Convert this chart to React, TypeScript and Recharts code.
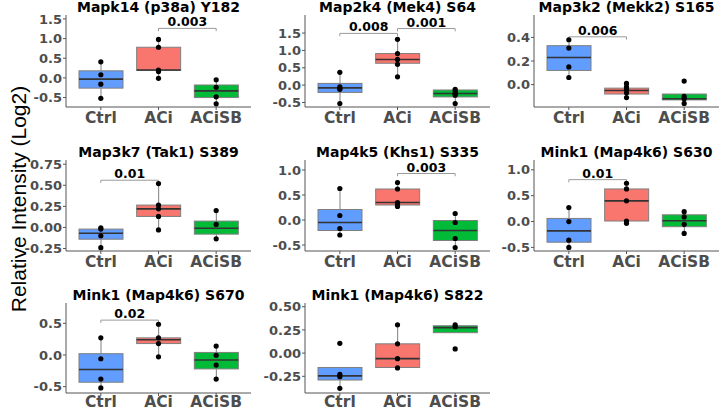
import React from 'react';
import { ComposedChart, Bar, Scatter, XAxis, YAxis, ReferenceLine } from 'recharts';

const categories = ['Ctrl', 'ACi', 'ACiSB'];
const boxFills = ['#619CFF', '#F8766D', '#00BA38'];

// Box stats per category: [lowWhisker, q1, median, q3, highWhisker]
const mapk14Boxes = [[-0.52, -0.26, -0.03, 0.18, 0.41], [-0.01, 0.19, 0.2, 0.78, 0.98], [-0.66, -0.5, -0.33, -0.18, -0.05]];
const mapk14Points = [[0.41, 0.08, -0.16, -0.52], [0.98, 0.78, 0.2, 0.16, -0.01], [-0.05, -0.24, -0.48, -0.66]];
const mapk14Ticks = [-0.5, 0, 0.5, 1, 1.5];
const mapk14Domain = [-0.74, 1.6];
const mapk14Brackets = [{ from: 'ACi', to: 'ACiSB', y: 1.26, label: '0.003' }];

const map2k4Boxes = [[-0.53, -0.21, -0.08, 0.05, 0.37], [0.24, 0.63, 0.74, 0.91, 1.32], [-0.53, -0.34, -0.24, -0.14, -0.12]];
const map2k4Points = [[0.37, -0.05, -0.1, -0.12, -0.53], [1.32, 0.91, 0.74, 0.6, 0.24], [-0.12, -0.17, -0.24, -0.29, -0.53]];
const map2k4Ticks = [-0.5, 0, 0.5, 1, 1.5];
const map2k4Domain = [-0.63, 2.02];
const map2k4Brackets = [{ from: 'Ctrl', to: 'ACi', y: 1.49, label: '0.008' }, { from: 'ACi', to: 'ACiSB', y: 1.63, label: '0.001' }];

const map3k2Boxes = [[0.06, 0.12, 0.23, 0.33, 0.38], [-0.11, -0.08, -0.05, -0.03, 0.01], [-0.16, -0.13, -0.12, -0.08, -0.08]];
const map3k2Points = [[0.38, 0.31, 0.15, 0.06], [0.01, -0.02, -0.04, -0.07, -0.11], [0.03, -0.1, -0.12, -0.16]];
const map3k2Ticks = [0, 0.2, 0.4];
const map3k2Domain = [-0.19, 0.59];
const map3k2Brackets = [{ from: 'Ctrl', to: 'ACi', y: 0.405, label: '0.006' }];

const map3k7Boxes = [[-0.24, -0.14, -0.07, -0.02, -0.005], [-0.03, 0.13, 0.22, 0.265, 0.52], [-0.135, -0.08, -0.01, 0.075, 0.2]];
const map3k7Points = [[-0.005, -0.02, -0.1, -0.24], [0.52, 0.265, 0.22, 0.13, -0.03], [0.2, 0.035, -0.135]];
const map3k7Ticks = [-0.25, 0, 0.25, 0.5, 0.75];
const map3k7Domain = [-0.28, 0.8];
const map3k7Brackets = [{ from: 'Ctrl', to: 'ACi', y: 0.56, label: '0.01' }];

const map4k5Boxes = [[-0.3, -0.21, -0.05, 0.21, 0.63], [0.27, 0.3, 0.35, 0.62, 0.75], [-0.55, -0.41, -0.21, -0.01, 0.13]];
const map4k5Points = [[0.63, 0.09, -0.17, -0.3], [0.75, 0.62, 0.35, 0.3, 0.27], [0.13, -0.05, -0.37, -0.55]];
const map4k5Ticks = [-0.5, 0, 0.5, 1];
const map4k5Domain = [-0.62, 1.2];
const map4k5Brackets = [{ from: 'ACi', to: 'ACiSB', y: 0.93, label: '0.003' }];

const mink1S630Boxes = [[-0.5, -0.4, -0.18, 0.06, 0.27], [-0.035, 0.01, 0.4, 0.63, 0.74], [-0.23, -0.1, 0.015, 0.13, 0.19]];
const mink1S630Points = [[0.27, 0.0, -0.36, -0.5], [0.74, 0.63, 0.4, 0.01, -0.035], [0.19, 0.09, -0.055, -0.23]];
const mink1S630Ticks = [-0.5, 0, 0.5, 1];
const mink1S630Domain = [-0.57, 1.19];
const mink1S630Brackets = [{ from: 'Ctrl', to: 'ACi', y: 0.81, label: '0.01' }];

const mink1S670Boxes = [[-0.52, -0.43, -0.23, 0.02, 0.27], [-0.03, 0.18, 0.24, 0.27, 0.485], [-0.38, -0.22, -0.08, 0.04, 0.14]];
const mink1S670Points = [[0.27, -0.06, -0.38, -0.52], [0.485, 0.27, 0.18, -0.03], [0.14, -0.005, -0.16, -0.38]];
const mink1S670Ticks = [-0.5, 0, 0.5];
const mink1S670Domain = [-0.6, 0.82];
const mink1S670Brackets = [{ from: 'Ctrl', to: 'ACi', y: 0.55, label: '0.02' }];

const mink1S822Boxes = [[-0.38, -0.29, -0.245, -0.155, -0.155], [-0.16, -0.155, -0.06, 0.1, 0.305], [0.22, 0.22, 0.275, 0.295, 0.305]];
const mink1S822Points = [[0.105, -0.23, -0.255, -0.38], [0.305, 0.1, -0.06, -0.16], [0.305, 0.285, 0.045]];
const mink1S822Ticks = [-0.25, 0, 0.25, 0.5];
const mink1S822Domain = [-0.43, 0.54];
const mink1S822Brackets: { from: string; to: string; y: number; label: string }[] = [];

const panelTitles = [
  'Mapk14 (p38a) Y182',
  'Map2k4 (Mek4) S64',
  'Map3k2 (Mekk2) S165',
  'Map3k7 (Tak1) S389',
  'Map4k5 (Khs1) S335',
  'Mink1 (Map4k6) S630',
  'Mink1 (Map4k6) S670',
  'Mink1 (Map4k6) S822',
];

const panels = [
  { boxes: mapk14Boxes, points: mapk14Points, ticks: mapk14Ticks, domain: mapk14Domain, brackets: mapk14Brackets, dec: 1 },
  { boxes: map2k4Boxes, points: map2k4Points, ticks: map2k4Ticks, domain: map2k4Domain, brackets: map2k4Brackets, dec: 1 },
  { boxes: map3k2Boxes, points: map3k2Points, ticks: map3k2Ticks, domain: map3k2Domain, brackets: map3k2Brackets, dec: 1 },
  { boxes: map3k7Boxes, points: map3k7Points, ticks: map3k7Ticks, domain: map3k7Domain, brackets: map3k7Brackets, dec: 2 },
  { boxes: map4k5Boxes, points: map4k5Points, ticks: map4k5Ticks, domain: map4k5Domain, brackets: map4k5Brackets, dec: 1 },
  { boxes: mink1S630Boxes, points: mink1S630Points, ticks: mink1S630Ticks, domain: mink1S630Domain, brackets: mink1S630Brackets, dec: 1 },
  { boxes: mink1S670Boxes, points: mink1S670Points, ticks: mink1S670Ticks, domain: mink1S670Domain, brackets: mink1S670Brackets, dec: 1 },
  { boxes: mink1S822Boxes, points: mink1S822Points, ticks: mink1S822Ticks, domain: mink1S822Domain, brackets: mink1S822Brackets, dec: 2 },
];

// layout
const colPlotLeft = [66, 305, 534];
const rowPlotTop = [15, 160, 303];
const rowPlotHeight = [92, 91, 90];
const rowTitleTop = [0, 145, 288];
const rowXTickMargin = [2, 2, 0];
const plotWidth = 185;
const yAxisW = 60;
const topPad = 12;
const xAxisH = 30;

const AXIS_COLOR = '#555555';
const TICK_COLOR = '#4d4d4d';
const BOLD_FONT = '"DejaVu Sans", Verdana, sans-serif';

function BoxShape(props: any) {
  const { x, y, width, height, payload } = props;
  if (payload == null || x == null) return null;
  const top = Math.min(y, y + height);
  const h = Math.abs(height);
  const { lo, q1, med, q3, hi, fill } = payload;
  const span = hi - lo;
  const py = (v: number) => (span === 0 ? top : top + (h * (hi - v)) / span);
  const cx = x + width / 2;
  return (
    <g>
      <line x1={cx} x2={cx} y1={py(hi)} y2={py(q3)} stroke="#7f7f7f" strokeWidth={1} />
      <line x1={cx} x2={cx} y1={py(q1)} y2={py(lo)} stroke="#7f7f7f" strokeWidth={1} />
      <rect x={x} y={py(q3)} width={width} height={Math.max(0.5, py(q1) - py(q3))} fill={fill} stroke="#7f7f7f" strokeWidth={1} />
      <line x1={x} x2={x + width} y1={py(med)} y2={py(med)} stroke="#333333" strokeWidth={1.6} />
    </g>
  );
}

function PointShape(props: any) {
  const { cx, cy } = props;
  if (cx == null || cy == null) return null;
  return <circle cx={cx} cy={cy} r={2.6} fill="#000000" />;
}

function Panel({ idx }: { idx: number }) {
  const p = panels[idx];
  const col = idx % 3;
  const row = Math.floor(idx / 3);
  const plotH = rowPlotHeight[row];
  const left = colPlotLeft[col] - yAxisW;
  const top = rowPlotTop[row] - topPad;
  const width = yAxisW + plotWidth + 1;
  const height = Math.min(topPad + plotH + xAxisH, 412 - top);
  const xH = height - topPad - plotH;
  const data = categories.map((c, i) => ({
    cat: c,
    lo: p.boxes[i][0],
    q1: p.boxes[i][1],
    med: p.boxes[i][2],
    q3: p.boxes[i][3],
    hi: p.boxes[i][4],
    fill: boxFills[i],
  }));
  const pts: { cat: string; v: number }[] = [];
  categories.forEach((c, i) => p.points[i].forEach((v) => pts.push({ cat: c, v })));
  const tip = 0.03 * (p.domain[1] - p.domain[0]);
  return (
    <>
      <div
        style={{
          position: 'absolute',
          left: colPlotLeft[col] - 20,
          width: plotWidth + 40,
          top: rowTitleTop[row],
          textAlign: 'center',
          fontFamily: BOLD_FONT,
          fontWeight: 'bold',
          fontSize: 14,
          lineHeight: '14px',
          color: '#000',
          whiteSpace: 'nowrap',
        }}
      >
        {panelTitles[idx]}
      </div>
      <div style={{ position: 'absolute', left, top, width, height }}>
        <ComposedChart width={width} height={height} data={data} margin={{ top: topPad, right: 1, bottom: 0, left: 0 }}>
          <XAxis
            dataKey="cat"
            type="category"
            allowDuplicatedCategory={false}
            padding={{ left: 6, right: 6 }}
            height={xH}
            interval={0}
            axisLine={{ stroke: AXIS_COLOR, strokeWidth: 1 }}
            tickLine={{ stroke: AXIS_COLOR }}
            tickSize={3}
            tickMargin={rowXTickMargin[row]}
            tick={{ fontFamily: BOLD_FONT, fontWeight: 'bold', fontSize: 15.5, fill: TICK_COLOR }}
          />
          <YAxis
            type="number"
            domain={p.domain}
            ticks={p.ticks}
            interval={0}
            allowDataOverflow
            width={yAxisW}
            axisLine={{ stroke: AXIS_COLOR, strokeWidth: 1 }}
            tickLine={{ stroke: AXIS_COLOR }}
            tickSize={3}
            tickMargin={1}
            tickFormatter={(v: number) => v.toFixed(p.dec)}
            tick={{ fontFamily: BOLD_FONT, fontWeight: 'bold', fontSize: 13, fill: TICK_COLOR }}
          />
          <Bar
            dataKey={(d: any) => [d.lo, d.hi]}
            barSize={44}
            shape={<BoxShape />}
            isAnimationActive={false}
          />
          <Scatter data={pts} dataKey="v" shape={<PointShape />} isAnimationActive={false} />
          {p.brackets.map((b, i) => (
            <ReferenceLine
              key={'b' + i}
              segment={[{ x: b.from, y: b.y }, { x: b.to, y: b.y }]}
              stroke="#9a9a9a"
              strokeWidth={1}
              ifOverflow="visible"
              label={{ value: b.label, position: 'top', offset: 2, fill: '#000', fontFamily: BOLD_FONT, fontWeight: 'bold', fontSize: 12.5 }}
            />
          ))}
          {p.brackets.map((b, i) => (
            <ReferenceLine
              key={'tl' + i}
              segment={[{ x: b.from, y: b.y }, { x: b.from, y: b.y - tip }]}
              stroke="#9a9a9a"
              strokeWidth={1}
              ifOverflow="visible"
            />
          ))}
          {p.brackets.map((b, i) => (
            <ReferenceLine
              key={'tr' + i}
              segment={[{ x: b.to, y: b.y }, { x: b.to, y: b.y - tip }]}
              stroke="#9a9a9a"
              strokeWidth={1}
              ifOverflow="visible"
            />
          ))}
        </ComposedChart>
      </div>
    </>
  );
}

export default function App() {
  return (
    <div style={{ position: 'absolute', left: 0, top: 0, width: 720, height: 412, background: '#ffffff', overflow: 'hidden' }}>
      <div
        style={{
          position: 'absolute',
          left: 19 - 130,
          top: 199 - 13,
          width: 260,
          height: 26,
          lineHeight: '26px',
          transform: 'rotate(-90deg)',
          textAlign: 'center',
          fontFamily: '"Liberation Sans", Arial, sans-serif',
          fontSize: 21,
          color: '#000',
          whiteSpace: 'nowrap',
        }}
      >
        Relative Intensity (Log2)
      </div>
      {panels.map((_, i) => (
        <Panel key={i} idx={i} />
      ))}
    </div>
  );
}
